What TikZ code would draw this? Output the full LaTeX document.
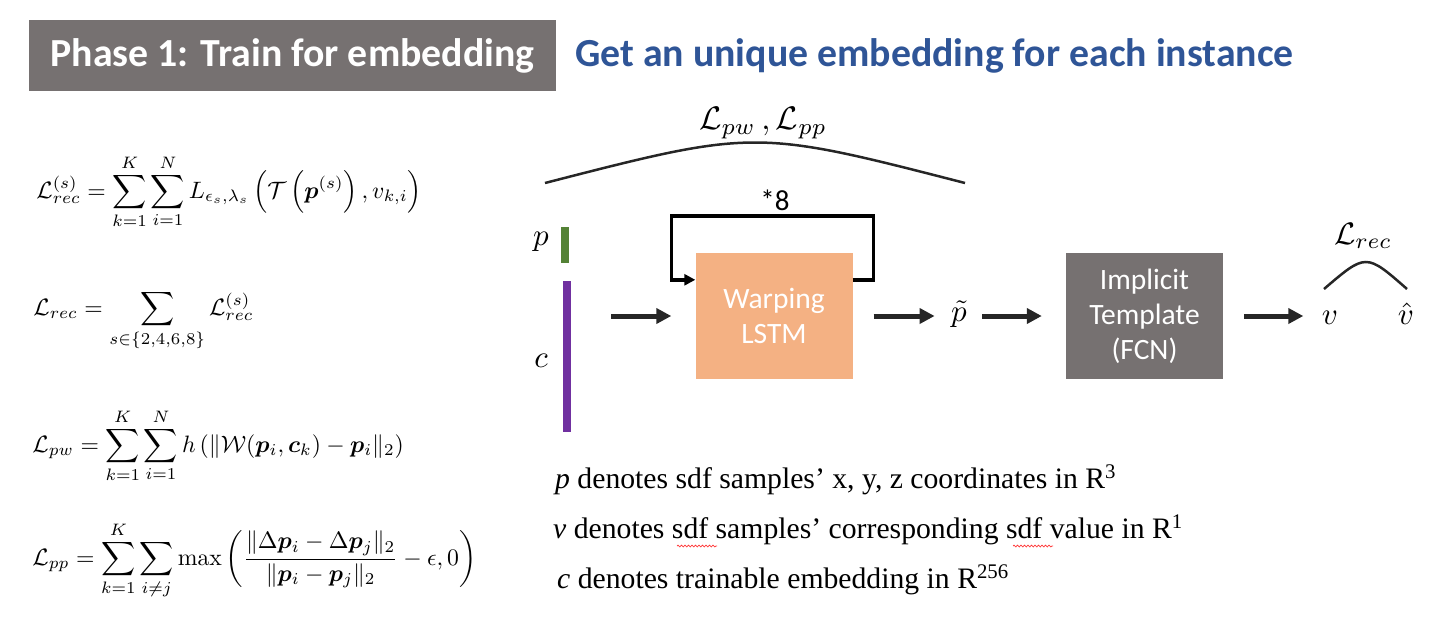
\documentclass[tikz,border=0pt]{standalone}
\usepackage{amsmath,amssymb}
\usepackage{bm}
\usepackage[no-math]{fontspec}
\setmainfont{Liberation Serif}
\newfontfamily\calibri{Carlito}
\usepackage{tikz}
\usetikzlibrary{arrows.meta,positioning,calc,decorations.pathmorphing}
\usepackage{xcolor}
\definecolor{boxgray}{HTML}{767171}
\definecolor{warporange}{HTML}{F4B183}
\definecolor{titleblue}{HTML}{2F5597}
\definecolor{pgreen}{HTML}{548235}
\definecolor{cpurple}{HTML}{7030A0}
\definecolor{arrowdark}{HTML}{262626}

\begin{document}
\begin{tikzpicture}[x=1pt,y=-1pt,
  block/.style={minimum width=157pt,minimum height=126pt,inner sep=0pt,align=center,
    text=white,font=\calibri\fontsize{29.5}{35}\selectfont},
  bigarrow/.style={line width=5pt,arrowdark,-{Triangle[length=15pt,width=15pt]}},
  mathlab/.style={inner sep=0pt,scale=3.1},
  eqn/.style={anchor=base west,inner sep=0pt,scale=2.37},
  note/.style={anchor=base west,inner sep=0pt,font=\fontsize{29.7}{34}\selectfont},
  spell/.style={red!80,line width=0.7pt,decorate,decoration={snake,amplitude=0.9pt,segment length=3.5pt}}]
  \useasboundingbox (0,0) rectangle (1444,619);

  % Titel
  \node[fill=boxgray,minimum width=527pt,minimum height=71pt,text=white,
    font=\calibri\bfseries\fontsize{39.8}{44}\selectfont] (hdr) at (292.5,55.5) {Phase 1: Train for embedding};
  \node[anchor=west,inner sep=0pt,text=titleblue,font=\calibri\bfseries\fontsize{39.8}{44}\selectfont]
    (goal) at (575,56) {Get an unique embedding for each instance};

  % Verlustfunktionen
  \node[eqn] (eqrecs) at (36,198) {$\displaystyle \mathcal{L}_{rec}^{(s)} = \sum_{k=1}^{K}\sum_{i=1}^{N} L_{\epsilon_s,\lambda_s}\left(\mathcal{T}\left(\bm{p}^{(s)}\right), v_{k,i}\right)$};
  \node[eqn] (eqrec) at (33,315) {$\displaystyle \mathcal{L}_{rec} = \sum_{s\in\{2,4,6,8\}} \mathcal{L}_{rec}^{(s)}$};
  \node[eqn] (eqpw) at (32,452) {$\displaystyle \mathcal{L}_{pw} = \sum_{k=1}^{K}\sum_{i=1}^{N} h\left(\|\mathcal{W}(\bm{p}_i,\bm{c}_k)-\bm{p}_i\|_2\right)$};
  \node[eqn] (eqpp) at (32,565) {$\displaystyle \mathcal{L}_{pp} = \sum_{k=1}^{K}\sum_{i\neq j}\max\left(\frac{\|\Delta\bm{p}_i-\Delta\bm{p}_j\|_2}{\|\bm{p}_i-\bm{p}_j\|_2}-\epsilon,0\right)$};

  % Eingaben
  \node[fill=pgreen,minimum width=8pt,minimum height=36pt,inner sep=0pt] (pbar) at (565,245) {};
  \node[fill=cpurple,minimum width=8pt,minimum height=151pt,inner sep=0pt] (cbar) at (567,356.5) {};
  \node[mathlab] (plab) at (541,242) {$p$};
  \node[mathlab] (clab) at (541,361) {$c$};

  % Netzwerk
  \node[block,fill=warporange] (warp) at (774,316) {Warping\\LSTM};
  \node[mathlab] (ptil) at (959,314) {$\tilde{p}$};
  \node[block,fill=boxgray] (fcn) at (1144.5,316) {Implicit\\Template\\(FCN)};
  \node[mathlab] (vnode) at (1330,318) {$v$};
  \node[mathlab] (vhat) at (1406,314) {$\hat{v}$};

  \draw[bigarrow,shorten <=40pt,shorten >=24pt] (cbar.east |- warp) -- (warp.west);
  \draw[bigarrow,shorten <=21pt,shorten >=16pt] (warp.east) -- (ptil.west |- warp.east);
  \draw[bigarrow,shorten <=15pt,shorten >=24pt] (ptil.east |- fcn.west) -- (fcn.west);
  \draw[bigarrow,shorten <=21pt,shorten >=18pt] (fcn.east) -- (vnode.west |- fcn.east);

  % Schleife
  \coordinate (lpin) at ([yshift=-27pt]warp.north west);
  \coordinate (lpout) at ([yshift=-27pt]warp.north east);
  \draw[line width=3.5pt,-{Triangle[length=11pt,width=11pt]}] (lpout) -- ++(21,0) -- ++(0,-64)
    -| ([xshift=-24pt]lpin) -- (lpin);
  \node[font=\calibri\fontsize{29}{32}\selectfont] (rep) at (775,200) {*8};

  % Boegen
  \draw[line width=2.5pt,arrowdark] (545,183) .. controls (755,129) .. (965,183);
  \node[mathlab,scale=1.05] (lwpp) at (763,123) {$\mathcal{L}_{pw}\,,\mathcal{L}_{pp}$};
  \draw[line width=2.5pt,arrowdark] (1324,289) .. controls (1366,253) .. (1407,289);
  \node[mathlab] (lrec) at (1363,236) {$\mathcal{L}_{rec}$};

  % Erlaeuterungen
  \node[note] (note1) at (555,488) {\textit{p} denotes sdf samples’ x, y, z coordinates in R\textsuperscript{3}};
  \node[note] (note2) at (553,538) {\textit{v} denotes sdf samples’ corresponding sdf value in R\textsuperscript{1}};
  \node[note] (note3) at (557,588) {\textit{c} denotes trainable embedding in R\textsuperscript{256}};
  \draw[spell] (677,546) -- (717,546);
  \draw[spell] (1013,546) -- (1053,546);
\end{tikzpicture}
\end{document}
